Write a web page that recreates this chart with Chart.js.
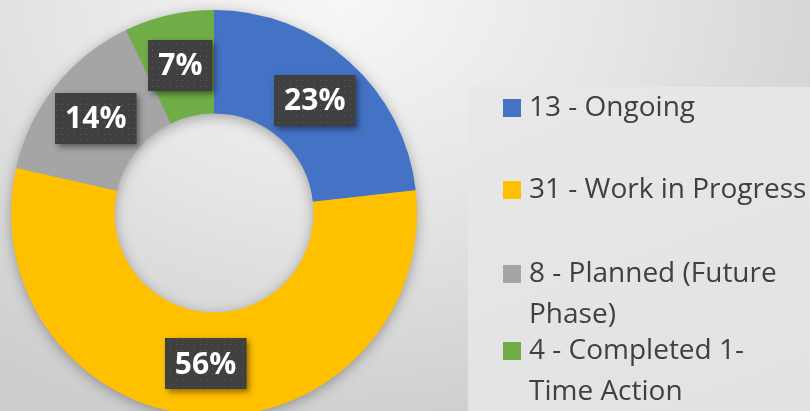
<!DOCTYPE html>
<html>
<head>
<meta charset="utf-8">
<script src="https://cdn.jsdelivr.net/npm/chart.js@4/dist/chart.umd.min.js"></script>
<style>
  html, body { margin: 0; padding: 0; }
  #wrap {
    position: absolute; left: 0; top: 0; width: 810px; height: 411px; overflow: hidden;
    background: radial-gradient(ellipse 75% 110% at 42% 0%, #f7f7f7 0%, #e6e6e6 45%, #cccccc 100%);
  }
  #legendBox {
    position: absolute; left: 468px; top: 87px; width: 342px; height: 324px;
    background: linear-gradient(160deg, #e8e8e8 0%, #e2e2e2 100%);
  }
  #chartBox { position: absolute; left: 0; top: 0; }
</style>
</head>
<body>
<div id="wrap">
  <div id="legendBox"></div>
  <div id="chartBox"><canvas id="donut" width="810" height="440"></canvas></div>
</div>
<script>
// --- chart data ---
const categories = ['Ongoing', 'Work in Progress', 'Planned (Future Phase)', 'Completed 1-Time Action'];
const counts = [13, 31, 8, 4];
const pctLabels = ['23%', '56%', '14%', '7%'];
const legendLines = [
    ['13 - Ongoing'],
    ['31 - Work in Progress'],
    ['8 - Planned (Future', 'Phase)'],
    ['4 - Completed 1-', 'Time Action']
];
const colors = ['#4472C4', '#FFC000', '#A5A5A5', '#70AD47'];

// soft shadow under the whole ring (drawn once so slices don't shade each other)
const ringShadow = {
    id: 'ringShadow',
    beforeDatasetsDraw(chart) {
        const arc = chart.getDatasetMeta(0).data[0];
        if (!arc) return;
        const ctx = chart.ctx;
        ctx.save();
        ctx.shadowColor = 'rgba(0,0,0,0.35)';
        ctx.shadowBlur = 14;
        ctx.shadowOffsetX = 0;
        ctx.shadowOffsetY = 3;
        ctx.beginPath();
        ctx.arc(arc.x, arc.y, arc.outerRadius - 1, 0, Math.PI * 2);
        ctx.arc(arc.x, arc.y, arc.innerRadius + 1, 0, Math.PI * 2, true);
        ctx.fillStyle = '#a5a5a5';
        ctx.fill('evenodd');
        ctx.restore();
    }
};

// dark dotted label boxes at the middle of each slice
const sliceLabels = {
    id: 'sliceLabels',
    afterDatasetsDraw(chart) {
        const ctx = chart.ctx;
        const tile = document.createElement('canvas');
        tile.width = 6; tile.height = 6;
        const tctx = tile.getContext('2d');
        tctx.fillStyle = '#404040';
        tctx.fillRect(0, 0, 6, 6);
        tctx.fillStyle = '#5e5e5e';
        tctx.fillRect(2, 2, 1, 1);
        const pattern = ctx.createPattern(tile, 'repeat');

        ctx.save();
        ctx.font = 'bold 30px "Open Sans"';
        chart.getDatasetMeta(0).data.forEach((arc, i) => {
            const p = arc.tooltipPosition();
            const text = pctLabels[i];
            const w = ctx.measureText(text).width + 20;
            const h = 51;
            const x = Math.round(p.x - w / 2), y = Math.round(p.y - h / 2);
            ctx.save();
            ctx.shadowColor = 'rgba(0,0,0,0.45)';
            ctx.shadowBlur = 6;
            ctx.shadowOffsetX = 3;
            ctx.shadowOffsetY = 3;
            ctx.fillStyle = '#404040';
            ctx.fillRect(x, y, w, h);
            ctx.restore();
            ctx.fillStyle = pattern;
            ctx.fillRect(x, y, w, h);
            ctx.fillStyle = '#ffffff';
            ctx.textAlign = 'center';
            ctx.textBaseline = 'middle';
            ctx.fillText(text, p.x, p.y + 1);
        });
        ctx.restore();
    }
};

// legend on the right with wrapped lines
const sideLegend = {
    id: 'sideLegend',
    afterDraw(chart, args, opts) {
        const ctx = chart.ctx;
        const bg = chart.data.datasets[0].backgroundColor;
        ctx.save();
        ctx.font = '28px "Open Sans"';
        ctx.textBaseline = 'alphabetic';
        ctx.textAlign = 'left';
        legendLines.forEach((lines, i) => {
            const base = opts.baselines[i];
            ctx.fillStyle = bg[i];
            ctx.fillRect(opts.boxX, base - 17, 18, 18);
            ctx.fillStyle = '#404040';
            lines.forEach((ln, j) => ctx.fillText(ln, opts.textX, base + j * opts.lineHeight));
        });
        ctx.restore();
    }
};

new Chart(document.getElementById('donut'), {
    type: 'doughnut',
    data: {
        labels: categories,
        datasets: [{
            data: counts,
            backgroundColor: colors,
            borderWidth: 0
        }]
    },
    options: {
        responsive: false,
        animation: false,
        cutout: '49%',
        layout: { padding: { left: 11, right: 393, top: 10, bottom: 24 } },
        plugins: {
            legend: { display: false },
            tooltip: { enabled: false },
            sideLegend: { boxX: 503, textX: 529, baselines: [116, 198, 282, 359], lineHeight: 41 }
        }
    },
    plugins: [ringShadow, sliceLabels, sideLegend]
});
</script>
</body>
</html>
